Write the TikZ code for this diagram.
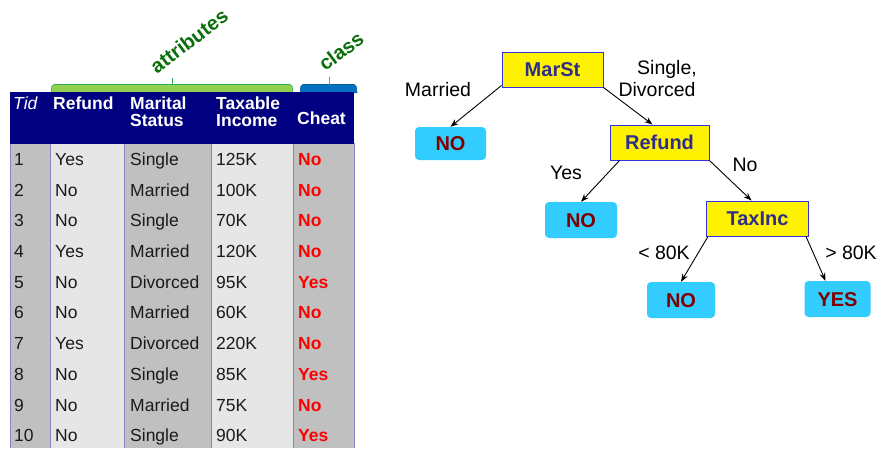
\documentclass[tikz,border=0pt]{standalone}
\usepackage{fontspec}
\setmainfont{Liberation Sans}
\usetikzlibrary{arrows.meta}
\definecolor{navy}{HTML}{000080}
\definecolor{cgray}{HTML}{C0C0C0}
\definecolor{clight}{HTML}{E6E6E6}
\definecolor{sepblue}{HTML}{8484CC}
\definecolor{attrgreen}{HTML}{92D050}
\definecolor{attrdark}{HTML}{2EAA50}
\definecolor{classblue}{HTML}{0070C0}
\definecolor{lblgreen}{HTML}{0A6E0A}
\definecolor{boxtext}{HTML}{2E2E8A}
\definecolor{boxedge}{HTML}{3333DD}
\definecolor{leaffill}{HTML}{33CCFF}
\definecolor{leaftext}{HTML}{800000}
\definecolor{cheatred}{HTML}{FF0000}
\definecolor{txt}{HTML}{1A1A1A}
\tikzset{
  cell/.style={anchor=base west, inner sep=0pt, text=txt, font=\fontsize{17.5}{20}\selectfont},
  redcell/.style={cell, text=cheatred, font=\fontsize{17.5}{20}\selectfont\bfseries},
  hdr/.style={anchor=base west, inner sep=0pt, text=white, font=\fontsize{17.5}{20}\selectfont\bfseries},
  tag/.style={rotate=37, inner sep=0pt, text=lblgreen, font=\fontsize{20}{22}\selectfont\bfseries},
  decision/.style={draw=boxedge, line width=1pt, fill=yellow, text=boxtext, inner sep=0pt,
    text height=14.5pt, text depth=0pt, font=\fontsize{20}{24}\selectfont\bfseries},
  leaf/.style={fill=leaffill, rounded corners=4pt, text=leaftext, inner sep=0pt,
    text height=14.5pt, text depth=0pt, font=\fontsize{20}{24}\selectfont\bfseries},
  edgelbl/.style={inner sep=0pt, text=black, text height=14pt, text depth=0pt,
    font=\fontsize{19.5}{23}\selectfont},
  branch/.style={-{Stealth[length=8pt,width=6pt]}, line width=0.9pt, black}
}
\begin{document}
\begin{tikzpicture}[x=1pt,y=-1pt]
\useasboundingbox[fill=white] (0,0) rectangle (882,448);

% ---------- brackets ----------
\draw[attrdark, fill=attrgreen, line width=0.6pt, rounded corners=2pt]
  (51,93) -- (52,84.5) -- (292,84.5) -- (293,93);
\draw[attrdark, line width=0.8pt] (172,84.5) -- (172,78);
\draw[classblue!80!black, fill=classblue, line width=0.6pt, rounded corners=2pt]
  (300,93) -- (301,84.5) -- (356,84.5) -- (357,93);
\draw[classblue!70!white, line width=0.8pt] (329,84.5) -- (329,77);
\node[tag] (attr) at (189,41) {attributes};
\node[tag] (cls) at (341,51) {class};

% ---------- table ----------
\fill[cgray]  (10,143) rectangle (50,448);
\fill[clight] (50,143) rectangle (124,448);
\fill[cgray]  (124,143) rectangle (211,448);
\fill[clight] (211,143) rectangle (293,448);
\fill[cgray]  (293,143) rectangle (354,448);
\foreach \xx in {10,50,124,211,293,354}
  \draw[sepblue, line width=1pt] (\xx,143) -- (\xx,448);
\fill[navy] (10,92) rectangle (354,144);

\node[hdr, font=\fontsize{17.5}{20}\selectfont\itshape] (hTid) at (13,109) {Tid};
\node[hdr] (hRef) at (53,109) {Refund};
\node[hdr] (hMar1) at (130,109) {Marital};
\node[hdr] (hMar2) at (130,126) {Status};
\node[hdr] (hTax1) at (216,109) {Taxable};
\node[hdr] (hTax2) at (216,126) {Income};
\node[hdr] (hCh) at (297,124) {Cheat};

\foreach \tt/\rr/\mm/\xv/\cc [count=\i] in {
  1/Yes/Single/125K/No,
  2/No/Married/100K/No,
  3/No/Single/70K/No,
  4/Yes/Married/120K/No,
  5/No/Divorced/95K/Yes,
  6/No/Married/60K/No,
  7/Yes/Divorced/220K/No,
  8/No/Single/85K/Yes,
  9/No/Married/75K/No,
  10/No/Single/90K/Yes}{
  \pgfmathsetmacro\yy{165.3+(\i-1)*30.72}
  \node[cell] (t\i) at (14,\yy) {\tt};
  \node[cell] (r\i) at (55,\yy) {\rr};
  \node[cell] (m\i) at (130,\yy) {\mm};
  \node[cell] (x\i) at (216,\yy) {\xv};
  \node[redcell] (c\i) at (298,\yy) {\cc};
}

% ---------- tree ----------
\node[decision, minimum width=101pt, minimum height=35pt] (marst) at (552.5,69.5) {MarSt};
\node[leaf, minimum width=71pt, minimum height=33pt] (no1) at (450.5,143.5) {NO};
\node[decision, minimum width=99pt, minimum height=35pt] (refund) at (659.5,142.5) {Refund};
\node[leaf, minimum width=72pt, minimum height=36pt] (no2) at (581,220) {NO};
\node[decision, minimum width=102pt, minimum height=35pt] (taxinc) at (757.5,218.5) {TaxInc};
\node[leaf, minimum width=68pt, minimum height=36pt] (no3) at (681,300) {NO};
\node[leaf, minimum width=66pt, minimum height=36pt] (yes) at (837.5,299) {YES};

\draw[branch] ([yshift=2pt]marst.south west) -- (no1.north);
\draw[branch] (marst.south east) -- ([xshift=-7pt]refund.north);
\draw[branch] ([xshift=10pt]refund.south west) -- (no2.north);
\draw[branch] (refund.south east) -- ([xshift=-6pt]taxinc.north);
\draw[branch] ([xshift=2pt]taxinc.south west) -- (no3.north);
\draw[branch] ([xshift=-3pt]taxinc.south east) -- ([xshift=-12pt]yes.north);

\node[edgelbl] (lMar) at (438,89) {Married};
\node[edgelbl] (lSin) at (667,67) {Single,};
\node[edgelbl] (lDiv) at (657,89) {Divorced};
\node[edgelbl] (lYes) at (566,172) {Yes};
\node[edgelbl] (lNo) at (745,164) {No};
\node[edgelbl] (lLt) at (664,252) {< 80K};
\node[edgelbl] (lGt) at (851,252) {> 80K};
\end{tikzpicture}
\end{document}
